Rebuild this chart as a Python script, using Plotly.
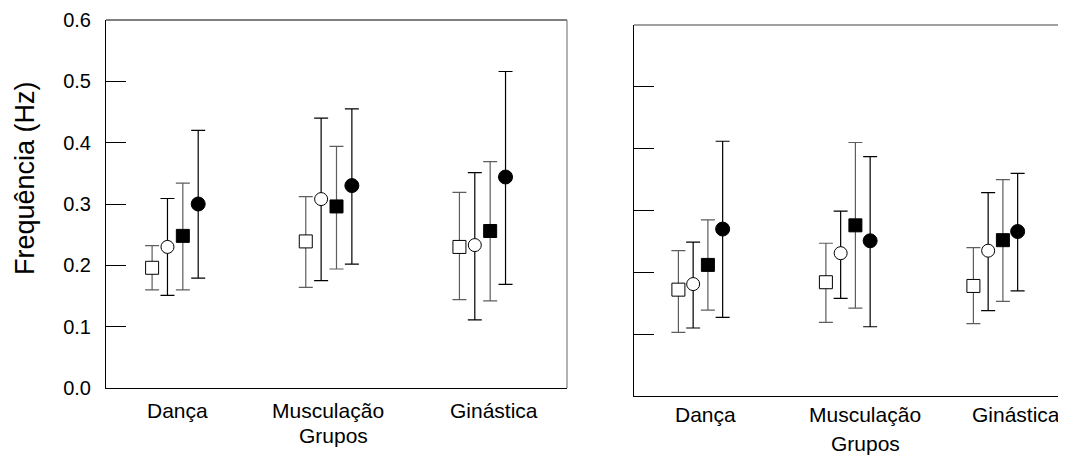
import plotly.graph_objects as go

# ---------------- data ----------------
categories = ["Dança", "Musculação", "Ginástica"]
series_names = ["open square", "open circle", "filled square", "filled circle"]

left_mean = {
    "open square":   [0.196, 0.239, 0.230],
    "open circle":   [0.230, 0.308, 0.233],
    "filled square": [0.248, 0.296, 0.256],
    "filled circle": [0.300, 0.330, 0.344],
}
left_upper = {
    "open square":   [0.232, 0.312, 0.319],
    "open circle":   [0.309, 0.440, 0.351],
    "filled square": [0.334, 0.394, 0.369],
    "filled circle": [0.420, 0.455, 0.516],
}
left_lower = {
    "open square":   [0.160, 0.164, 0.144],
    "open circle":   [0.151, 0.175, 0.111],
    "filled square": [0.160, 0.194, 0.142],
    "filled circle": [0.179, 0.202, 0.169],
}

right_mean = {
    "open square":   [0.172, 0.184, 0.178],
    "open circle":   [0.181, 0.231, 0.235],
    "filled square": [0.212, 0.276, 0.252],
    "filled circle": [0.270, 0.251, 0.266],
}
right_upper = {
    "open square":   [0.235, 0.247, 0.240],
    "open circle":   [0.249, 0.299, 0.329],
    "filled square": [0.285, 0.410, 0.350],
    "filled circle": [0.412, 0.387, 0.360],
}
right_lower = {
    "open square":   [0.103, 0.119, 0.117],
    "open circle":   [0.110, 0.158, 0.138],
    "filled square": [0.139, 0.142, 0.153],
    "filled circle": [0.127, 0.112, 0.170],
}

y_tick_vals = [0.0, 0.1, 0.2, 0.3, 0.4, 0.5, 0.6]
y_tick_text = ["0.0", "0.1", "0.2", "0.3", "0.4", "0.5", "0.6"]
y_title = "Frequência (Hz)"
x_title = "Grupos"

# ---------------- styles ----------------
offsets = {"open square": -0.15, "open circle": -0.05, "filled square": 0.05, "filled circle": 0.15}
marker_styles = {
    "open square":   dict(symbol="square", size=13, color="white", line=dict(color="black", width=1)),
    "open circle":   dict(symbol="circle", size=13, color="white", line=dict(color="black", width=1)),
    "filled square": dict(symbol="square", size=13, color="black", line=dict(color="black", width=1)),
    "filled circle": dict(symbol="circle", size=14, color="black", line=dict(color="black", width=1)),
}
bar_colors = {"open square": "#5e5e5e", "open circle": "#000000",
              "filled square": "#5e5e5e", "filled circle": "#000000"}

fig = go.Figure()

def add_panel(means, uppers, lowers, xa, ya):
    for name in series_names:
        m = means[name]
        up = [u - v for u, v in zip(uppers[name], m)]
        lo = [v - l for l, v in zip(lowers[name], m)]
        xs = [i + 1 + offsets[name] for i in range(len(categories))]
        fig.add_trace(go.Scatter(
            x=xs, y=m, mode="markers", xaxis=xa, yaxis=ya,
            marker=marker_styles[name], showlegend=False, name=name,
            error_y=dict(type="data", symmetric=False, array=up, arrayminus=lo,
                         color=bar_colors[name], thickness=1.2, width=7),
        ))

add_panel(left_mean, left_upper, left_lower, "x", "y")
add_panel(right_mean, right_upper, right_lower, "x2", "y2")

W, H = 1066, 460
OFF = 8  # page body margin offset observed in the viewer

def px(x):
    return (x - OFF) / W

def py(y):
    return (H - (y - OFF)) / H

L_dom_x = [px(106), px(567)]
L_dom_y = [py(388), py(20)]
R_dom_x = [px(634), 1.0]
R_dom_y = [py(396), py(25)]
r_unit = 147.5
r_left = 0.549
r_right_paper = r_left + (W + OFF - 634) / r_unit

axis_common = dict(showgrid=False, zeroline=False, showline=True, linecolor="black",
                   linewidth=1, automargin=False)

fig.update_layout(
    width=W, height=H,
    margin=dict(l=0, r=0, t=0, b=0),
    paper_bgcolor="white", plot_bgcolor="white",
    font=dict(family="Liberation Sans, Arial, sans-serif", color="black"),
    xaxis=dict(domain=L_dom_x, range=[0.55, 3.55], showticklabels=False, ticks="", **axis_common),
    yaxis=dict(domain=L_dom_y, range=[0, 0.6], tickvals=y_tick_vals, ticktext=y_tick_text,
               ticks="inside", ticklen=20, tickcolor="black", tickwidth=1,
               tickfont=dict(size=20, family="Liberation Sans, Arial"), ticklabelstandoff=10,
               anchor="x", **axis_common),
    xaxis2=dict(domain=R_dom_x, range=[r_left, r_right_paper], showticklabels=False, ticks="",
                anchor="y2", **axis_common),
    yaxis2=dict(domain=R_dom_y, range=[0, 0.6], tickvals=y_tick_vals, showticklabels=False,
                ticks="inside", ticklen=20, tickcolor="black", tickwidth=1,
                anchor="x2", **axis_common),
)

fig.add_shape(type="line", xref="x domain", yref="y domain", x0=0, x1=1, y0=1, y1=1,
              line=dict(color="black", width=1))
fig.add_shape(type="line", xref="x domain", yref="y domain", x0=1, x1=1, y0=0, y1=1,
              line=dict(color="#808080", width=1.2))
fig.add_shape(type="line", xref="x2 domain", yref="y2 domain", x0=0, x1=1, y0=1, y1=1,
              line=dict(color="#808080", width=1.5))

cat_font = dict(family="Liberation Sans, Arial", size=21, color="black")

left_label_px = [177, 328, 494]
right_label_px = [705, 865, 1016]
for cat, lx in zip(categories, left_label_px):
    fig.add_annotation(x=px(lx), xref="paper", y=py(410), yref="paper", text=cat,
                       showarrow=False, font=cat_font, xanchor="center", yanchor="middle")
for cat, rx in zip(categories, right_label_px):
    fig.add_annotation(x=px(rx), xref="paper", y=py(414), yref="paper", text=cat,
                       showarrow=False, font=cat_font, xanchor="center", yanchor="middle")

fig.add_annotation(x=px(333), xref="paper", y=py(435), yref="paper", text=x_title,
                   showarrow=False, font=cat_font, xanchor="center", yanchor="middle")
fig.add_annotation(x=px(865), xref="paper", y=py(443), yref="paper", text=x_title,
                   showarrow=False, font=cat_font, xanchor="center", yanchor="middle")

fig.add_annotation(x=px(25), xref="paper", y=py(178), yref="paper", text=y_title,
                   textangle=-90, showarrow=False,
                   font=dict(family="Liberation Sans, Arial", size=27, color="black"),
                   xanchor="center", yanchor="middle")

fig.write_html("out.html")
